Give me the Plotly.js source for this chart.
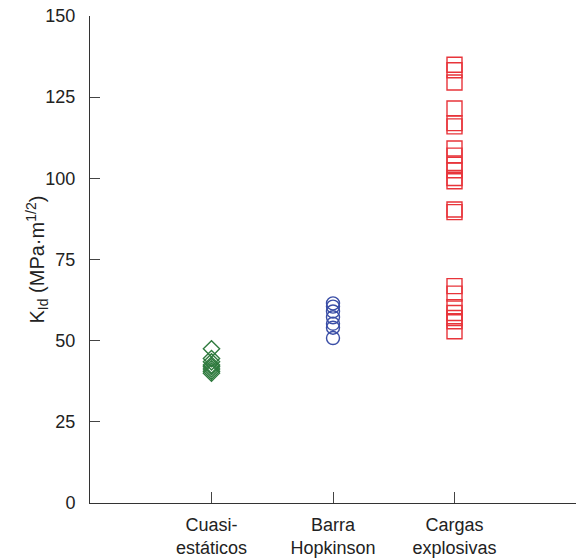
<!DOCTYPE html>
<html>
<head>
<meta charset="utf-8">
<script src="https://cdn.plot.ly/plotly-3.0.1.min.js"></script>
<style>html,body{margin:0;padding:0;background:#fff;}#chart{width:577px;height:559px;}</style>
</head>
<body>
<div id="chart"></div>
<script>
const categories = ["Cuasi-<br>estáticos", "Barra<br>Hopkinson", "Cargas<br>explosivas"];
const cuasiValues = [47.5, 44.5, 43.5, 42.5, 42, 41.3, 40.6, 40];
const hopkinsonValues = [61.5, 60.5, 59, 57.2, 55.2, 54, 50.8];
const explosivasValues = [135, 133.3, 129.5, 121.5, 117, 116, 109.2, 107, 104.2, 102.5, 100.1, 99.1, 90.4, 89.6, 66.8, 64.5, 60.3, 58.5, 57, 56, 52.9];
const yTicks = [0, 25, 50, 75, 100, 125, 150];

const font = "Liberation Sans, Arial, sans-serif";
function xs(n, pos) { return Array(n).fill(pos); }

const traces = [
  {x: xs(cuasiValues.length, 1), y: cuasiValues, mode: "markers", type: "scatter",
   marker: {symbol: "diamond-open", size: 12.5, color: "#2f7a3e", line: {width: 1.4, color: "#2f7a3e"}}},
  {x: xs(hopkinsonValues.length, 2), y: hopkinsonValues, mode: "markers", type: "scatter",
   marker: {symbol: "circle-open", size: 13, color: "#3a4ea6", line: {width: 1.4, color: "#3a4ea6"}}},
  {x: xs(explosivasValues.length, 3), y: explosivasValues, mode: "markers", type: "scatter",
   marker: {symbol: "square-open", size: 15, color: "#e8343a", line: {width: 1.4, color: "#e8343a"}}}
];

const layout = {
  width: 577, height: 559,
  margin: {l: 90, r: 1, t: 16, b: 56},
  paper_bgcolor: "#fff", plot_bgcolor: "#fff",
  showlegend: false,
  font: {family: font, size: 18, color: "#222"},
  xaxis: {
    range: [0, 4], tickvals: [1, 2, 3], ticktext: categories,
    ticks: "inside", ticklen: 11, tickcolor: "#444", tickwidth: 1,
    showline: true, linecolor: "#333", linewidth: 1,
    showgrid: false, zeroline: false, ticklabelstandoff: 5,
    tickfont: {family: font, size: 18, color: "#222"}, fixedrange: true
  },
  yaxis: {
    range: [0, 150], tickvals: yTicks,
    ticks: "inside", ticklen: 10, tickcolor: "#444", tickwidth: 1,
    showline: true, linecolor: "#333", linewidth: 1,
    showgrid: false, zeroline: false, ticklabelstandoff: 10,
    tickfont: {family: font, size: 18, color: "#222"}, fixedrange: true
  },
  annotations: [{
    text: "K<sub>Id</sub> (MPa·m<sup>1/2</sup>)",
    xref: "paper", yref: "paper", x: 0, y: 0.5, xanchor: "center", yanchor: "middle",
    xshift: -53, textangle: -90, showarrow: false,
    font: {family: font, size: 20, color: "#222"}
  }]
};

Plotly.newPlot("chart", traces, layout, {staticPlot: true, displayModeBar: false});
</script>
</body>
</html>
